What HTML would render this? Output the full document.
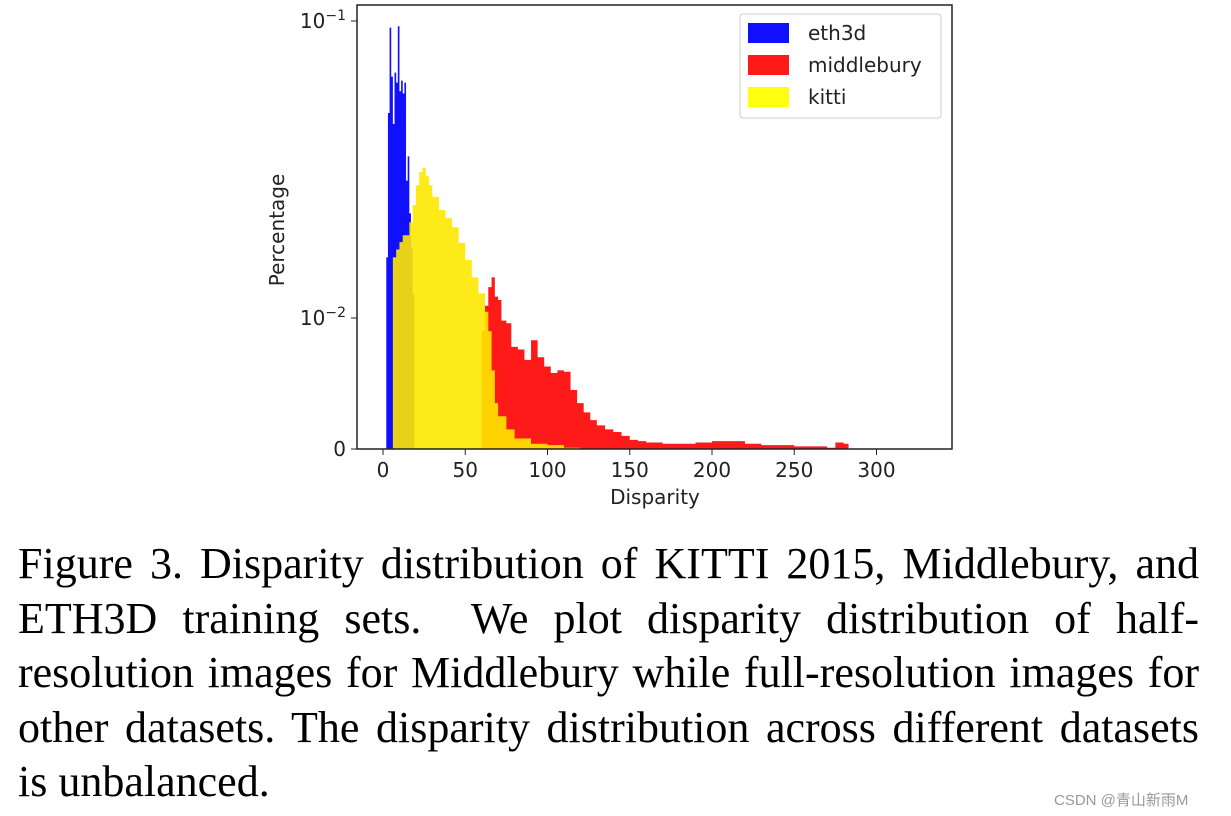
<!DOCTYPE html>
<html><head><meta charset="utf-8"><style>
body{margin:0;background:#fff;width:1231px;height:816px;overflow:hidden;position:relative}
.cap{position:absolute;left:18px;width:1181px;font-family:"Liberation Serif",serif;font-size:44px;line-height:46px;text-align:justify;text-align-last:justify;color:#000;white-space:nowrap}
.last{text-align-last:left}
</style></head><body>
<svg width="1231" height="520" style="position:absolute;left:0;top:0" font-family="DejaVu Sans, sans-serif">
<g id="bars"></g>
<rect x="357" y="5" width="595" height="444" fill="none" stroke="#222" stroke-width="1.5"/>
<g id="ticks"></g>
<text transform="translate(284,230) rotate(-90)" text-anchor="middle" font-size="20" fill="#222">Percentage</text>
<text x="655" y="504" text-anchor="middle" font-size="20" fill="#222">Disparity</text>
<g>
<rect x="740" y="14" width="201" height="104" rx="3" fill="#fff" stroke="#ccc"/>
<rect x="748" y="23" width="41" height="20" fill="#1010ff"/>
<text x="808" y="40" font-size="20" fill="#222">eth3d</text>
<rect x="748" y="55" width="41" height="20" fill="#ff1a1a"/>
<text x="808" y="72" font-size="20" fill="#222">middlebury</text>
<rect x="748" y="87" width="41" height="20" fill="#ffff10"/>
<text x="808" y="104" font-size="20" fill="#222">kitti</text>
</g>
</svg>
<div class="cap" style="top:541px">Figure 3. Disparity distribution of KITTI 2015, Middlebury, and</div>
<div class="cap" style="top:596px">ETH3D training sets.&nbsp; We plot disparity distribution of half-</div>
<div class="cap" style="top:650px">resolution images for Middlebury while full-resolution images for</div>
<div class="cap" style="top:705px">other datasets. The disparity distribution across different datasets</div>
<div class="cap last" style="top:759px">is unbalanced.</div>
<div style="position:absolute;left:1054px;top:789px;font-family:'Liberation Sans','Noto Sans CJK SC',sans-serif;font-size:15px;color:#999">CSDN @青山新雨M</div>
<script>
const eth3dBins=[2,3,4,5,6,7,8,9,10,11,12,13,14,15,16,17,18];
const eth3dVals=[0.016,0.049,0.095,0.065,0.045,0.067,0.062,0.096,0.058,0.063,0.057,0.062,0.029,0.035,0.0225,0.0173,0.012];
const middBins=[60,62,64,66,68,70,72,75,78,82,86,90,94,98,102,106,110,114,118,122,126,130,135,140,145,150,155,160,170,180,190,200,210,220,230,240,250,260,270,275,280];
const middVals=[0.009,0.011,0.0127,0.0137,0.0118,0.0115,0.0098,0.0096,0.0078,0.0076,0.0068,0.0083,0.007,0.0063,0.0058,0.006,0.0059,0.0045,0.0035,0.0028,0.0022,0.0018,0.0015,0.0013,0.001,0.0007,0.0006,0.0005,0.0004,0.0004,0.0005,0.0006,0.0006,0.0004,0.0003,0.0003,0.0002,0.0002,0.0001,0.0005,0.0004];
const middEnd=283;
const kittiBins=[6,8,10,12,14,16,18,20,22,24,26,28,30,34,38,42,46,50,54,58,62,64,66,68,70,75,80,90,100,110];
const kittiVals=[0.016,0.017,0.018,0.019,0.019,0.021,0.024,0.028,0.031,0.032,0.030,0.028,0.0256,0.0231,0.0217,0.0202,0.0179,0.0157,0.0137,0.0121,0.0105,0.009,0.006,0.0035,0.0025,0.0015,0.0008,0.0004,0.0003,0.0001];
const kittiEnd=120;
const xTicks=[0,50,100,150,200,250,300];
const yTicks=[0,0.01,0.1];
const yTickLabels=['0','10<tspan dy="-8" font-size="14">−2</tspan>','10<tspan dy="-8" font-size="14">−1</tspan>'];
const X=d=>383+d*1.645;
const Y=v=>v<=0.01?449-131*v/0.01:318-297*Math.log10(v/0.01);
const NS='http://www.w3.org/2000/svg';
function stepPath(bins,vals,end){
  let d='M'+X(bins[0])+','+Y(0);
  for(let i=0;i<bins.length;i++){
    const x0=X(bins[i]),x1=X(i+1<bins.length?bins[i+1]:end),y=Y(vals[i]);
    d+=' L'+x0+','+y+' L'+x1+','+y;
  }
  return d+' L'+X(end)+','+Y(0)+' Z';
}
const g=document.getElementById('bars');
function add(name,d,fill,op){
  const p=document.createElementNS(NS,'path');
  p.setAttribute('d',d);p.setAttribute('fill',fill);p.setAttribute('fill-opacity',op);
  
  
  g.appendChild(p);
}
add('eth3d-histogram',stepPath(eth3dBins,eth3dVals,19),'#1010ff',1);
add('middlebury-histogram',stepPath(middBins,middVals,middEnd),'#ff1a1a',1);
add('kitti-histogram',stepPath(kittiBins,kittiVals,kittiEnd),'#ffe800',0.9);
const t=document.getElementById('ticks');
xTicks.forEach(v=>{
  const l=document.createElementNS(NS,'line');
  l.setAttribute('x1',X(v));l.setAttribute('x2',X(v));l.setAttribute('y1',449);l.setAttribute('y2',455);l.setAttribute('stroke','#222');
  
  
  t.appendChild(l);
  const s=document.createElementNS(NS,'text');
  s.setAttribute('x',X(v));s.setAttribute('y',477);s.setAttribute('text-anchor','middle');s.setAttribute('font-size','20');s.setAttribute('fill','#222');
  s.textContent=v;
  
  
  t.appendChild(s);
});
yTicks.forEach((v,i)=>{
  const l=document.createElementNS(NS,'line');
  l.setAttribute('x1',351);l.setAttribute('x2',357);l.setAttribute('y1',Y(v));l.setAttribute('y2',Y(v));l.setAttribute('stroke','#222');
  
  
  t.appendChild(l);
  const s=document.createElementNS(NS,'text');
  s.setAttribute('x',346);s.setAttribute('y',Y(v)+7);s.setAttribute('text-anchor','end');s.setAttribute('font-size','20');s.setAttribute('fill','#222');
  s.innerHTML=yTickLabels[i];
  
  
  t.appendChild(s);
});
</script>
</body></html>
